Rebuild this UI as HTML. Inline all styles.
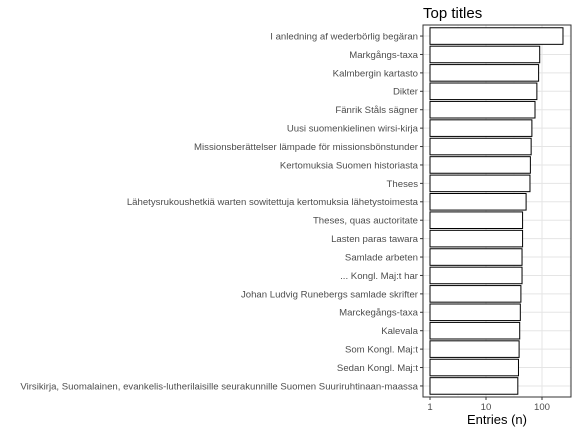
<!DOCTYPE html>
<html><head><meta charset="utf-8"><style>
body{margin:0;background:#fff;}
svg{display:block;font-family:"Liberation Sans",sans-serif;}
</style></head><body>
<svg id="chart" width="576" height="432">
<text x="423" y="18" font-size="15" fill="#000">Top titles</text>
<rect x="423" y="25" width="148" height="372" fill="#fff" stroke="none"/>
<g id="grid"></g><g id="bars"></g><g id="yaxis"></g><g id="xaxis"></g>
<rect x="423" y="25" width="148" height="372" fill="none" stroke="#333" stroke-width="1"/>
<text x="497" y="424" font-size="13" text-anchor="middle" fill="#000">Entries (n)</text>
</svg>
<script>
const categories=["I anledning af wederbörlig begäran","Markgångs-taxa","Kalmbergin kartasto","Dikter","Fänrik Ståls sägner","Uusi suomenkielinen wirsi-kirja","Missionsberättelser lämpade för missionsbönstunder","Kertomuksia Suomen historiasta","Theses","Lähetysrukoushetkiä warten sowitettuja kertomuksia lähetystoimesta","Theses, quas auctoritate","Lasten paras tawara","Samlade arbeten","... Kongl. Maj:t har","Johan Ludvig Runebergs samlade skrifter","Marckegångs-taxa","Kalevala","Som Kongl. Maj:t","Sedan Kongl. Maj:t","Virsikirja, Suomalainen, evankelis-lutherilaisille seurakunnille Suomen Suuriruhtinaan-maassa"];
const values=[237,91,87,81,75,66,64,62,61,52,45,45,44,44,42,41,40,39,38,37];
const tickValues=[1,10,100];
const tickLabels=["1","10","100"];
const minorValues=[3.1623,31.623,316.23];
const NS="http://www.w3.org/2000/svg";
const x=v=>430+56*Math.log10(v);
const step=372/20.2;
const y=i=>25+step*(0.6+i);
function mk(t,a,p){const e=document.createElementNS(NS,t);for(const k in a)e.setAttribute(k,a[k]);p.appendChild(e);return e;}
const grid=document.getElementById('grid'),bars=document.getElementById('bars'),ya=document.getElementById('yaxis'),xa=document.getElementById('xaxis');
minorValues.forEach(v=>{const px=x(v);if(px<571){const l=mk('line',{x1:px,x2:px,y1:25,y2:397,stroke:'#f0f0f0','stroke-width':0.6},grid);

}});
tickValues.forEach((v,i)=>{const px=x(v);const l=mk('line',{x1:px,x2:px,y1:25,y2:397,stroke:'#e5e5e5','stroke-width':1},grid);


mk('line',{x1:px,x2:px,y1:397,y2:400,stroke:'#333'},xa);
const t=mk('text',{x:px,y:410,'font-size':9.6,'text-anchor':'middle',fill:'#4d4d4d'},xa);t.textContent=tickLabels[i];

});
categories.forEach((c,i)=>{const cy=y(i);
const g=mk('line',{x1:423,x2:571,y1:cy,y2:cy,stroke:'#e5e5e5','stroke-width':1},grid);


const b=mk('rect',{x:x(1),y:cy-step*0.45,width:x(values[i])-x(1),height:step*0.9,fill:'#fff',stroke:'#000','stroke-width':1},bars);


mk('line',{x1:420,x2:423,y1:cy,y2:cy,stroke:'#333'},ya);
const t=mk('text',{x:418,y:cy+3.4,'font-size':9.6,'text-anchor':'end',fill:'#4d4d4d'},ya);t.textContent=c;

});
</script>
</body></html>
